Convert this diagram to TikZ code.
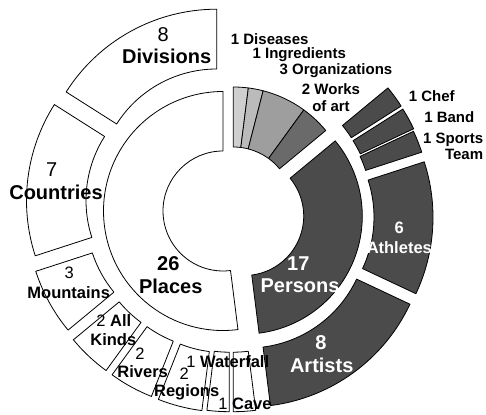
\documentclass[tikz,border=0pt]{standalone}
\usepackage{fontspec}
\setmainfont{Liberation Sans}
\usetikzlibrary{calc}
\definecolor{cdis}{HTML}{CFCFCF}
\definecolor{cing}{HTML}{BBBBBB}
\definecolor{corg}{HTML}{9E9E9E}
\definecolor{cwork}{HTML}{6A6A6A}
\definecolor{cpers}{HTML}{4B4B4B}
\newcommand{\annsec}[7]{%
  \filldraw[#1] ([shift={(#2,#3)}]#4:#6pt) arc[start angle=#4,end angle=#5,radius=#6pt]
    -- ([shift={(#2,#3)}]#5:#7pt) arc[start angle=#5,end angle=#4,radius=#7pt] -- cycle;}
\tikzset{
  piece/.style={draw=black,line width=0.8pt,line join=round},
  wpiece/.style={piece,fill=white},
  dpiece/.style={piece,fill=cpers},
  big/.style={inner sep=0pt,font=\fontsize{20}{22}\selectfont},
  mid/.style={inner sep=0pt,font=\fontsize{16.5}{18}\selectfont},
  sml/.style={inner sep=0pt,font=\fontsize{15}{16}\selectfont\bfseries},
}
\begin{document}
\begin{tikzpicture}[x=1pt,y=1pt]
\useasboundingbox (0,0) rectangle (486,414);
% inner ring
\annsec{wpiece}{223}{203}{90}{277.2}{60}{119.5}
\annsec{piece,fill=cdis}{233.3}{207}{82.8}{90}{60}{120}
\annsec{piece,fill=cing}{233.3}{207}{75.6}{82.8}{60}{120}
\annsec{piece,fill=corg}{233.3}{207}{54}{75.6}{60}{120}
\annsec{piece,fill=cwork}{233.3}{207}{39.6}{54}{60}{120}
\annsec{dpiece}{244.3}{197.9}{-82.8}{39.6}{59.4}{118}
% outer ring: places
\annsec{wpiece}{216.7}{226.5}{90}{147.6}{118.5}{178.3}
\annsec{wpiece}{205.5}{213.5}{147.6}{198}{119.5}{179}
\annsec{wpiece}{206}{198}{198}{219.6}{119.5}{179}
\annsec{wpiece}{211.3}{188.3}{219.6}{234}{119.5}{179}
\annsec{wpiece}{217.3}{184}{234}{248.4}{119.5}{179}
\annsec{wpiece}{224.3}{181}{248.4}{262.8}{119.5}{179}
\annsec{wpiece}{229.3}{181.3}{262.8}{270}{119.5}{179}
\annsec{wpiece}{233.3}{181.3}{270}{277.2}{119.5}{179}
% outer ring: persons
\annsec{dpiece}{250}{212}{32.4}{39.6}{120}{179}
\annsec{dpiece}{251.7}{209}{25.2}{32.4}{120}{179}
\annsec{dpiece}{251.5}{206.5}{18}{25.2}{120}{179}
\annsec{dpiece}{253.5}{196.7}{-25.2}{18}{120.5}{179.5}
\annsec{dpiece}{248}{186}{-82.8}{-25.2}{120}{179}
% labels places
\node[big] (divN) at (163.3,379) {8};
\node[big,font=\fontsize{20}{22}\selectfont\bfseries] (divT) at (166.7,357.3) {Divisions};
\node[big] (couN) at (51.7,244) {7};
\node[big,font=\fontsize{20}{22}\selectfont\bfseries] (couT) at (56,221.3) {Countries};
\node[big,font=\fontsize{20}{22}\selectfont\bfseries] (plaN) at (168.3,150.7) {26};
\node[big,font=\fontsize{20}{22}\selectfont\bfseries] (plaT) at (170.7,128) {Places};
\node[mid] (mouN) at (69.3,140.7) {3};
\node[mid,font=\fontsize{16.5}{18}\selectfont\bfseries] (mouT) at (68.7,121.7) {Mountains};
\node[mid] (allN) at (113.8,93.3) {2 \textbf{All}};
\node[mid,font=\fontsize{16.5}{18}\selectfont\bfseries] (allT) at (113.3,74.7) {Kinds};
\node[mid] (rivN) at (140,60.7) {2};
\node[mid,font=\fontsize{16.5}{18}\selectfont\bfseries] (rivT) at (142.7,42.3) {Rivers};
\node[mid] (regN) at (184.3,40) {2};
\node[mid,font=\fontsize{16.5}{18}\selectfont\bfseries] (regT) at (186.7,21.7) {Regions};
\node[mid] (watT) at (227.7,52) {1 \textbf{Waterfall}};
\node[mid] (cavT) at (245,10.2) {1 \textbf{Cave}};
% labels persons
\node[big,text=white,font=\fontsize{20}{22}\selectfont\bfseries] (perN) at (298.3,150.7) {17};
\node[big,text=white,font=\fontsize{20}{22}\selectfont\bfseries] (perT) at (300,128) {Persons};
\node[mid,text=white,font=\fontsize{16.5}{18}\selectfont\bfseries] (athN) at (399.3,185.7) {6};
\node[mid,text=white,font=\fontsize{16.5}{18}\selectfont\bfseries] (athT) at (399.3,166.7) {Athletes};
\node[big,text=white,font=\fontsize{20}{22}\selectfont\bfseries] (artN) at (321,71.3) {8};
\node[big,text=white,font=\fontsize{20}{22}\selectfont\bfseries] (artT) at (321.7,49) {Artists};
% outside labels
\node[sml] (chef) at (431.7,318) {1 Chef};
\node[sml] (band) at (449.3,297.3) {1 Band};
\node[sml,align=right,anchor=east,font=\fontsize{15}{15.7}\selectfont\bfseries] (sport) at (483.3,268) {1 Sports\\Team};
\node[sml] (dis) at (269.7,374.7) {1 Diseases};
\node[sml] (ing) at (299.3,359) {1 Ingredients};
\node[sml] (org) at (336,343.3) {3 Organizations};
\node[sml,align=center,font=\fontsize{15}{16.7}\selectfont\bfseries] (work) at (331,316.3) {2 Works\\of art};
\end{tikzpicture}
\end{document}
